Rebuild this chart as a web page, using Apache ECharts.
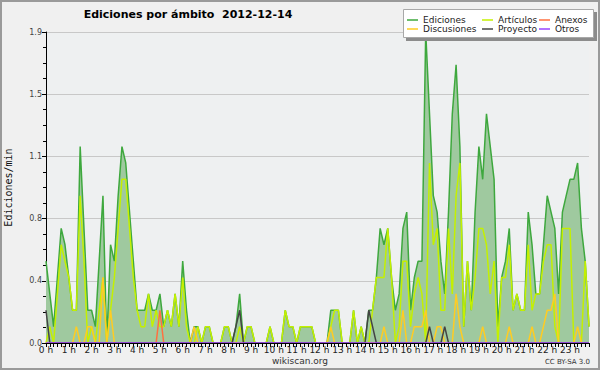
<!DOCTYPE html>
<html><head><meta charset="utf-8">
<script src="https://cdn.jsdelivr.net/npm/echarts@6/dist/echarts.min.js"></script>
<style>html,body{margin:0;padding:0;background:#f0f0f0}#c{width:600px;height:370px}</style>
</head><body><div id="c"></div>
<script>
// one point every 10 minutes, 144 points (0 h .. 23:50)
const hourLabels = ['0 h','1 h','2 h','3 h','4 h','5 h','6 h','7 h','8 h','9 h','10 h','11 h',
  '12 h','13 h','14 h','15 h','16 h','17 h','18 h','19 h','20 h','21 h','22 h','23 h'];

const ediciones = [
  0.5,0.3,0.1,0.4,0.7,0.6,0.4,0.2,0.2,1.2,0.7,0.2,
  0.2,0.1,0.5,0.9,0.0,0.6,0.5,0.9,1.2,1.1,0.8,0.5,
  0.2,0.2,0.2,0.3,0.2,0.2,0.3,0.1,0.2,0.1,0.3,0.1,
  0.5,0.2,0,0.1,0.1,0,0.1,0.1,0,0,0,0.1,
  0.1,0,0.1,0.3,0,0.1,0.1,0,0,0,0,0.1,
  0,0,0,0.2,0.1,0.1,0,0.1,0.1,0.1,0.1,0,
  0,0,0,0.2,0.2,0.2,0,0,0,0.2,0,0.1,
  0,0.2,0.2,0.4,0.7,0.6,0.7,0.4,0.2,0.3,0.7,0.8,
  0.2,0.4,0.5,0.5,1.9,1.4,0.9,0.8,0.5,0.3,0.8,1.4,
  1.7,1.2,0.1,0.5,0.2,0.8,1.2,1.0,1.4,1.2,1.0,0.1,
  0.4,0.5,0.7,0.2,0.3,0.2,0.2,0.8,0.6,0.3,0.3,0.6,
  0.9,0.8,0.7,0.3,0.8,0.9,1.0,1.0,1.1,0.7,0.5,0.1
];
const articulos = [
  0,0.1,0,0.3,0.6,0.5,0.4,0.2,0.2,0.9,0.5,0,
  0.1,0,0.2,0.4,0,0.2,0.4,0.7,1.0,1.0,0.7,0.4,
  0.2,0.1,0.1,0.3,0.1,0.2,0.1,0.1,0.2,0.1,0.3,0.1,
  0.4,0.1,0,0,0.1,0,0.1,0.1,0,0,0,0.1,
  0.1,0,0,0.1,0,0.1,0.1,0,0,0,0,0.1,
  0,0,0,0.2,0.1,0.1,0,0.1,0.1,0.1,0.1,0,
  0,0,0,0.1,0.2,0.2,0,0,0,0.2,0,0.1,
  0,0,0.2,0.4,0.4,0.4,0.7,0.4,0,0.1,0.5,0.5,
  0.1,0.3,0.4,0.3,0,1.1,0.6,0.7,0.2,0.2,0.7,0.3,
  0.9,1.1,0.1,0.5,0.2,0.4,0.7,0.7,0.6,0.3,0.5,0,
  0.4,0.4,0.6,0.2,0.3,0.2,0.2,0.6,0.2,0.3,0.3,0.5,
  0.6,0.6,0.1,0,0.7,0.7,0.7,0,0,0,0.5,0.1
];
const anexos = [
  0,0,0,0,0,0,0,0,0,0,0,0,
  0,0,0,0,0,0,0,0,0,0,0,0,
  0,0,0,0,0,0,0.2,0,0,0,0,0,
  0,0,0,0,0,0,0,0,0,0,0,0,
  0,0,0,0,0,0,0,0,0,0,0,0,
  0,0,0,0,0,0,0,0,0,0,0,0,
  0,0,0,0,0,0,0,0,0,0,0,0,
  0,0,0,0,0,0,0,0,0,0,0,0,
  0,0,0,0,0,0,0,0,0,0,0,0,
  0,0,0,0,0,0,0,0,0,0,0,0,
  0,0,0,0,0,0,0,0,0,0,0,0,
  0,0,0,0,0,0,0,0,0,0,0,0
];
const discusiones = [
  0,0,0,0,0,0,0,0,0.1,0,0,0.1,
  0.1,0,0,0.4,0,0.2,0,0,0,0,0,0,
  0,0,0,0,0,0,0,0,0,0,0,0,
  0,0,0,0.1,0,0,0,0,0,0,0,0,
  0,0,0,0,0,0,0,0,0,0,0,0,
  0,0,0,0,0,0,0,0,0,0,0,0,
  0,0,0,0.1,0,0,0,0,0,0,0,0,
  0,0,0,0,0,0.1,0,0,0,0,0.2,0,
  0,0.1,0.1,0.1,0.2,0,0,0.1,0.1,0,0,0,
  0.3,0.1,0,0,0,0,0,0.1,0,0,0,0,
  0,0,0.1,0,0,0,0,0,0.1,0,0,0.1,
  0.2,0.2,0.3,0,0,0,0,0,0.1,0,0,0
];
const proyecto = [
  0.2,0,0,0,0,0,0,0,0,0,0,0,
  0,0,0,0,0,0,0,0,0,0,0,0,
  0,0,0,0,0,0,0,0,0,0,0,0,
  0,0,0,0,0,0,0,0,0,0,0,0,
  0,0,0.1,0.2,0,0,0,0,0,0,0,0,
  0,0,0,0,0,0,0,0,0,0,0,0,
  0,0,0,0,0,0,0,0,0,0,0,0,
  0,0.2,0.1,0,0,0,0,0,0,0,0,0,
  0,0,0,0,0,0.1,0,0,0,0.1,0,0,
  0,0,0,0,0,0,0,0,0,0,0,0,
  0,0,0,0,0,0,0,0,0,0,0,0,
  0,0,0,0,0,0,0,0,0,0,0,0
];
const otros = [
  0,0,0,0,0,0,0,0,0,0,0,0,
  0,0,0,0,0,0,0,0,0,0,0,0,
  0,0,0,0,0,0,0,0,0,0,0,0,
  0,0,0,0,0,0,0,0,0,0,0,0,
  0,0,0,0,0,0,0,0,0,0,0,0,
  0,0,0,0,0,0,0,0,0,0,0,0,
  0,0,0,0,0,0,0,0,0,0,0,0,
  0,0,0,0,0,0,0,0,0,0,0,0,
  0,0,0,0,0,0,0,0,0,0,0,0,
  0,0,0,0,0,0,0,0,0,0,0,0,
  0,0,0,0,0,0,0,0,0,0,0,0,
  0,0,0,0,0,0,0,0,0,0,0,0
];

const categories = [];
hourLabels.forEach(h => { for (let k = 0; k < 6; k++) categories.push(k === 0 ? h : h + ' ' + (k * 10)); });

const colors = {
  Ediciones: '#3ea83e', 'Artículos': '#c4f000', Anexos: '#ff7040',
  Discusiones: '#ffcc22', Proyecto: '#444444', Otros: '#9944ff'
};
function lineSeries(name, data, extra) {
  return Object.assign({
    name, type: 'line', data, symbol: 'none', showSymbol: false,
    lineStyle: { color: colors[name], width: 1.5 },
    itemStyle: { color: colors[name] },
    emphasis: { disabled: true }, silent: true, z: 3
  }, extra || {});
}
const legendCommon = {
  orient: 'vertical', top: 15, padding: 0, icon: 'rect', itemWidth: 11, itemHeight: 1.5,
  itemGap: -1, z: 30, selectedMode: false,
  textStyle: { fontFamily: 'DejaVu Sans', fontSize: 9, color: '#222', lineHeight: 10, padding: 0 }
};

const chart = echarts.init(document.getElementById('c'), null, { renderer: 'svg' });
chart.setOption({
  animation: false,
  backgroundColor: '#f0f0f0',
  grid: { left: 46, right: 11, top: 32, bottom: 27, show: true, backgroundColor: '#eef0f1',
    borderWidth: 0, containLabel: false, outerBoundsMode: 'none' },
  xAxis: {
    type: 'category', data: categories, boundaryGap: false, z: 5,
    axisLine: { lineStyle: { color: '#000', width: 1 } },
    axisTick: { interval: 0, length: 4, lineStyle: { color: '#000' } },
    axisLabel: { interval: 5, fontFamily: 'DejaVu Sans', fontSize: 9, color: '#222', margin: 2,
      formatter: v => v.indexOf(' h ') > 0 ? '' : v, hideOverlap: false },
    splitLine: { show: false }
  },
  yAxis: {
    type: 'value', min: 0, max: 1.9, interval: 0.38,
    name: 'Ediciones/min', nameLocation: 'middle', nameRotate: 90, nameGap: 33,
    nameTextStyle: { fontFamily: 'DejaVu Sans Mono', fontSize: 10, color: '#111' },
    axisLine: { show: true, lineStyle: { color: '#000', width: 1 } },
    axisTick: { show: true, length: 4, lineStyle: { color: '#000' } },
    minorTick: { show: true, splitNumber: 4, length: 3, lineStyle: { color: '#000' } },
    axisLabel: { fontFamily: 'DejaVu Sans', fontSize: 8, color: '#444', margin: 4,
      formatter: v => v.toFixed(1) },
    splitLine: { lineStyle: { color: '#c8c8c8', width: 1 } }
  },
  legend: [
    Object.assign({ left: 407, data: ['Ediciones', 'Discusiones'] }, legendCommon),
    Object.assign({ left: 482, data: ['Artículos', 'Proyecto'] }, legendCommon),
    Object.assign({ left: 539, data: ['Anexos', 'Otros'] }, legendCommon)
  ],
  graphic: [
    { type: 'rect', z: 20, shape: { x: 406, y: 12, width: 191, height: 29 }, style: { fill: '#8c8c8c' } },
    { type: 'rect', z: 21, shape: { x: 403.5, y: 9.5, width: 190, height: 28 }, style: { fill: '#ffffff', stroke: '#a8a8a8', lineWidth: 1 } },
    { type: 'text', z: 30, x: 188, y: 14, style: { text: 'Ediciones por ámbito  2012-12-14', fontFamily: 'DejaVu Sans', fontWeight: 'bold', fontSize: 11, fill: '#000', align: 'center', verticalAlign: 'middle' } },
    { type: 'text', z: 30, x: 300, y: 361, style: { text: 'wikiscan.org', fontFamily: 'DejaVu Sans', fontSize: 9, fill: '#333', align: 'center', verticalAlign: 'middle' } },
    { type: 'text', z: 30, x: 590, y: 362, style: { text: 'CC BY-SA 3.0', fontFamily: 'DejaVu Sans', fontSize: 7, fill: '#333', align: 'right', verticalAlign: 'middle' } },
    { type: 'rect', z: 30, shape: { x: 1, y: 1, width: 598, height: 368 }, style: { fill: 'none', stroke: '#9a9a9a', lineWidth: 2 } }
  ],
  series: [
    lineSeries('Ediciones', ediciones, { areaStyle: { color: '#9fc99f', opacity: 1 }, z: 2 }),
    lineSeries('Artículos', articulos),
    lineSeries('Anexos', anexos),
    lineSeries('Discusiones', discusiones),
    lineSeries('Proyecto', proyecto),
    lineSeries('Otros', otros)
  ]
});
</script>
</body></html>
